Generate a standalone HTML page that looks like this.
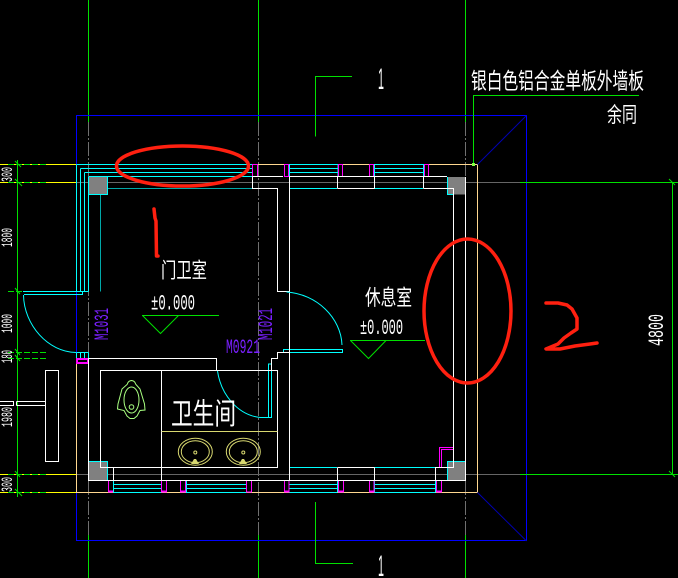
<!DOCTYPE html>
<html lang="zh"><head><meta charset="utf-8"><title>平面图</title>
<style>
html,body{margin:0;padding:0;background:#000;width:678px;height:578px;overflow:hidden}
svg{display:block}
text{font-family:"Liberation Sans","WenQuanYi Zen Hei","Noto Sans CJK SC",sans-serif;fill:#fff}
.c{font-family:"WenQuanYi Zen Hei","Noto Sans CJK SC",sans-serif;font-weight:400}
.m{font-family:"Liberation Mono","Liberation Sans",sans-serif}
.s{font-family:"Liberation Sans",sans-serif}
.p{fill:#7a20ff}
</style></head><body>
<svg width="678" height="578" viewBox="0 0 678 578" xmlns="http://www.w3.org/2000/svg" fill="none">
<rect width="678" height="578" fill="#000"/>
<g shape-rendering="crispEdges">
<!-- grid axes -->
<g stroke="#00e000"><path d="M88.5 0V122M258.5 0V122M465.5 0V122M88.5 535V578M258.5 535V578M465.5 535V578"/></g>
<g stroke="#707070" stroke-dasharray="14 2 2 2"><path d="M88.5 122V358M258.5 122V535M465.5 122V177M465.5 481V535M88.5 481V535"/></g>
<path stroke="#666" d="M76 182.5H520M76 474.5H520"/>
<!-- blue boundary -->
<rect x="76.5" y="115.5" width="450" height="425" stroke="#0000ff"/>
<!-- outer tan -->
<path stroke="#ffd890" d="M76.5 363V492.5H477.5V164.5H252"/>
<!-- yellow dim lines -->
<path stroke="#ffff00" d="M0 164.5H76M0 182.5H76M0 474.5H76M0 492.5H76"/>
<!-- green dim -->
<path stroke="#00e000" d="M17.5 160V497M520 182.5H678M520 474.5H678M672.5 182.5V474.5"/>
<path stroke="#00e000" stroke-dasharray="6 2" d="M8 164.500H48M8 182.500H48M8 291.500H48M8 352.500H48M8 358.500H48M8 474.500H47M8 492.500H48"/>
</g>
<path stroke="#00e000" d="M15 161L21 167M15 179L22 186M15 288L20 294M15 349L20 355M15 355L20 361M15 471L20 477M15 489L22 496M669 179L675 185M669 471L675 477"/>
<path stroke="#0000b0" d="M477.5 164.5L526.5 115.5M477.5 492.5L526.5 541"/>
<g shape-rendering="crispEdges">
<!-- columns -->
<g fill="#808080"><rect x="89" y="177" width="19" height="17.5"/><rect x="448" y="177" width="18" height="17.5"/><rect x="89" y="462" width="18" height="18"/><rect x="448" y="462" width="18" height="18"/></g>
<!-- top-left L cyan -->
<g stroke="#00ffff">
<path d="M76.5 164.5H252M80.5 168.5H252M84.5 172.5H252M88.5 176.5H252"/>
<path d="M76.5 164.5V291.5M80.5 168.5V291.5M84.5 172.5V291.5M88.5 176.5V291.5"/>
<path d="M23 291.5H88.5M24 294.5H82.5V291.5"/>
<path d="M107.5 177V194.5H88.5"/>
<path d="M289.5 164.5H338M289.5 168.5H338M289.5 172.5H338M374.5 164.5H424M374.5 168.5H424M374.5 172.5H424M289.5 176.5V164.5M338 164.5V176.5M374.5 164.5V176.5M423.5 164.5V176.5"/>
<path d="M289.5 188.5H337M374.5 188.5H423"/>
<path d="M447.5 177V194.5H453.5"/>
<path d="M76.5 352.5H88.5M76.5 352.5V358M80.5 352.5V358M84.5 352.5V358M88.5 352.5V358"/>
<path d="M283.5 352.5V349.5H342.5V352.5H283.5"/>
<path d="M217.5 370.5H272M268.5 370V364H271.5V417.5H260M268.5 370V417"/>
<path d="M89 461.5H107.5V480M113.5 467.5H161"/>
<path d="M289.5 467.5H337M374.5 467.5H435"/>
<path d="M447.5 480V461.5H465"/>
<path d="M113.5 484.5H161M113.5 488.5H161M113.5 492.5H161M186 484.5H246.5M186 488.5H246.5M186 492.5H246.5M186.5 481V492M246.5 481V492M289.5 484.5H337.5M289.5 488.5H337.5M289.5 492.5H337.5M374.5 484.5H435.5M374.5 488.5H435.5M374.5 492.5H435.5M337.5 481V492M374.5 481V492M435.5 481V492"/>
<path d="M113.5 481V492.5"/>
</g>
<g stroke="#00a8a8"><path d="M108 188.5H252M100.5 195V291.5"/></g>
<!-- magenta -->
<g stroke="#ff00ff">
<rect x="252.5" y="164.5" width="5" height="12"/><rect x="284.5" y="164.5" width="4" height="12"/><rect x="338.5" y="164.5" width="4" height="12"/><rect x="369.5" y="164.5" width="4" height="12"/><rect x="424.5" y="164.5" width="4" height="12"/>
<rect x="77" y="359" width="11" height="4" stroke-width="2"/>
<path d="M108.5 481V492H113M161.5 481V492H166.5V481M180.5 481V492H185.5V481M246.5 481V492H251.5V481M284.5 481V492H289V481M338.5 481V492H343.5V481M369.5 481V492H374V481M436.5 481V492H441.5V481"/>
<path d="M108.5 491.500H113M161.500 491.500H166M180.500 491.500H185M284.500 491.500H289M338 491.500H343M369.500 491.500H374M436 491.500H441" stroke-width="2"/>
<path d="M439.5 467V447.5H453M441.5 467V449.5H453"/>
</g>
<!-- white walls -->
<g stroke="#fff">
<path d="M252.5 176.5H283M289.5 176.5H447M252.5 176.5V188.5H277.5V291.5H289.5V176.5"/>
<path d="M337.5 176.5V188.5M374.5 176.5V188.5M423.5 176.5V188.5M337.5 188.5H374.5M423.5 188.5H453.5V467.5H435.5V480.5"/>
<path d="M465.5 177V480.5H88.5V358.5H216.5V370.5H277.5V467.5H100.5V370.5H161.5V480.5"/>
<path d="M100.5 370.5H217M113.5 467.5V480.5"/>
<path d="M289.5 291.5V352.5H277.5V358.5H271.5V370.5M337.5 467.5H374.5M337.5 467.5V480.5M374.5 467.5V480.5M289.5 352V467.5V480.5"/>
<rect x="45.5" y="370.5" width="13" height="91"/>
<path d="M16.5 401.5H45.5M16.5 405.5H45.5M16.5 401.5V405.5M0 401.5H13.5V405.5H0"/>
</g>
<path stroke="#d8d870" d="M161.5 431.5H277.5"/>
<!-- level marks, leader, sections -->
<g stroke="#00e000">
<path d="M142 315.5H219M350 340.5H425"/>
<path d="M315.5 136.5V76.5H352M315.5 502V563.5H353"/>
<path d="M473.5 164V95.5H639"/>
</g>
<rect x="472" y="163" width="3" height="3" fill="#80ff40"/>
</g>
<path stroke="#00e000" d="M142.5 315.5L160.5 333.5L178.5 315.5M350.5 340.5L368.5 358.5L386 340.5"/>
<!-- door arcs -->
<g stroke="#00ffff">
<path d="M23.5 295C24 325 48 352 76 352.5"/>
<path d="M286.5 292C317 294 341 318 342 345"/>
<path d="M217.5 371C221 395 238 415 260 417.5"/>
</g>
<!-- urinal -->
<g stroke="#a8ff80">
<path d="M131.5 380.5C127 381 128 384 127 384.500L122 389L118 404L117.500 409L124 410.500L127 416L130 418.500H134L137 416L140 410.500L145 410L144.500 404L140 389L136 384.500C135 384 136 381 131.500 380.500Z"/>
<ellipse cx="131.500" cy="400" rx="7.500" ry="13"/>
<circle cx="131.500" cy="407" r="2.300"/>
</g>
<!-- sinks -->
<g stroke="#d8d870">
<ellipse cx="195.300" cy="451.700" rx="17" ry="13.500"/><ellipse cx="195.300" cy="451.700" rx="14" ry="11"/><circle cx="195.300" cy="452.500" r="1.500"/>
<ellipse cx="243.300" cy="451.700" rx="17" ry="13.500"/><ellipse cx="243.300" cy="451.700" rx="14" ry="11"/><circle cx="243.300" cy="452.500" r="1.500"/>
</g>
<path fill="#d8d870" d="M191 464L194 459H196L199 464ZM239 464L242 459H244L247 464Z"/>
<!-- text -->
<text class="c" transform="translate(471,89) scale(1,1.45)" font-size="15.700" textLength="173" lengthAdjust="spacingAndGlyphs">银白色铝合金单板外墙板</text>
<text class="c" transform="translate(607,122) scale(1,1.4)" font-size="15" textLength="30" lengthAdjust="spacingAndGlyphs">余同</text>
<text class="c" transform="translate(161,277.500) scale(1,1.4)" font-size="15" textLength="46" lengthAdjust="spacingAndGlyphs">门卫室</text>
<text class="c" transform="translate(365,305) scale(1,1.4)" font-size="15.500" textLength="47" lengthAdjust="spacingAndGlyphs">休息室</text>
<text class="c" transform="translate(171,424) scale(1,1.4)" font-size="21" textLength="65" lengthAdjust="spacingAndGlyphs">卫生间</text>
<text class="m" x="151" y="309.500" font-size="22" textLength="44" lengthAdjust="spacingAndGlyphs">±0.000</text>
<text class="m" x="360" y="334" font-size="22" textLength="43" lengthAdjust="spacingAndGlyphs">±0.000</text>
<text class="s" x="378" y="89" font-size="30" textLength="6" lengthAdjust="spacingAndGlyphs">1</text>
<text class="s" x="378" y="576" font-size="30" textLength="6" lengthAdjust="spacingAndGlyphs">1</text>
<text class="m p" x="226" y="353" font-size="20" textLength="34" lengthAdjust="spacingAndGlyphs">M0921</text>
<text class="m p" transform="translate(108,340) rotate(-90)" font-size="20" textLength="32" lengthAdjust="spacingAndGlyphs">M1031</text>
<text class="m p" transform="translate(272,340) rotate(-90)" font-size="20" textLength="32" lengthAdjust="spacingAndGlyphs">M1021</text>
<g font-size="16">
<text class="m" transform="translate(12,182) rotate(-90)" textLength="15" lengthAdjust="spacingAndGlyphs">300</text>
<text class="m" transform="translate(12,247) rotate(-90)" textLength="19" lengthAdjust="spacingAndGlyphs">1800</text>
<text class="m" transform="translate(12,333) rotate(-90)" textLength="19" lengthAdjust="spacingAndGlyphs">1000</text>
<text class="m" transform="translate(12,363) rotate(-90)" textLength="13" lengthAdjust="spacingAndGlyphs">180</text>
<text class="m" transform="translate(12,427) rotate(-90)" textLength="20" lengthAdjust="spacingAndGlyphs">1980</text>
<text class="m" transform="translate(12,492) rotate(-90)" textLength="15" lengthAdjust="spacingAndGlyphs">300</text>
</g>
<text class="m" transform="translate(663,346) rotate(-90)" font-size="22" textLength="32" lengthAdjust="spacingAndGlyphs">4800</text>
<!-- red annotations -->
<g stroke="#ff2010" stroke-width="3.500" stroke-linecap="round" stroke-linejoin="round">
<ellipse cx="182.500" cy="166" rx="66" ry="20"/>
<ellipse cx="467.500" cy="311" rx="43.500" ry="72"/>
<path d="M154 209L155 218L156 221L156.500 256L158 256"/>
<path d="M546 303L558 303L567 305L572 309L577 318V329L571 333L564 338L558 344L546 349L560 349L575 346L590 344L597 343"/>
</g>
</svg>
</body></html>
